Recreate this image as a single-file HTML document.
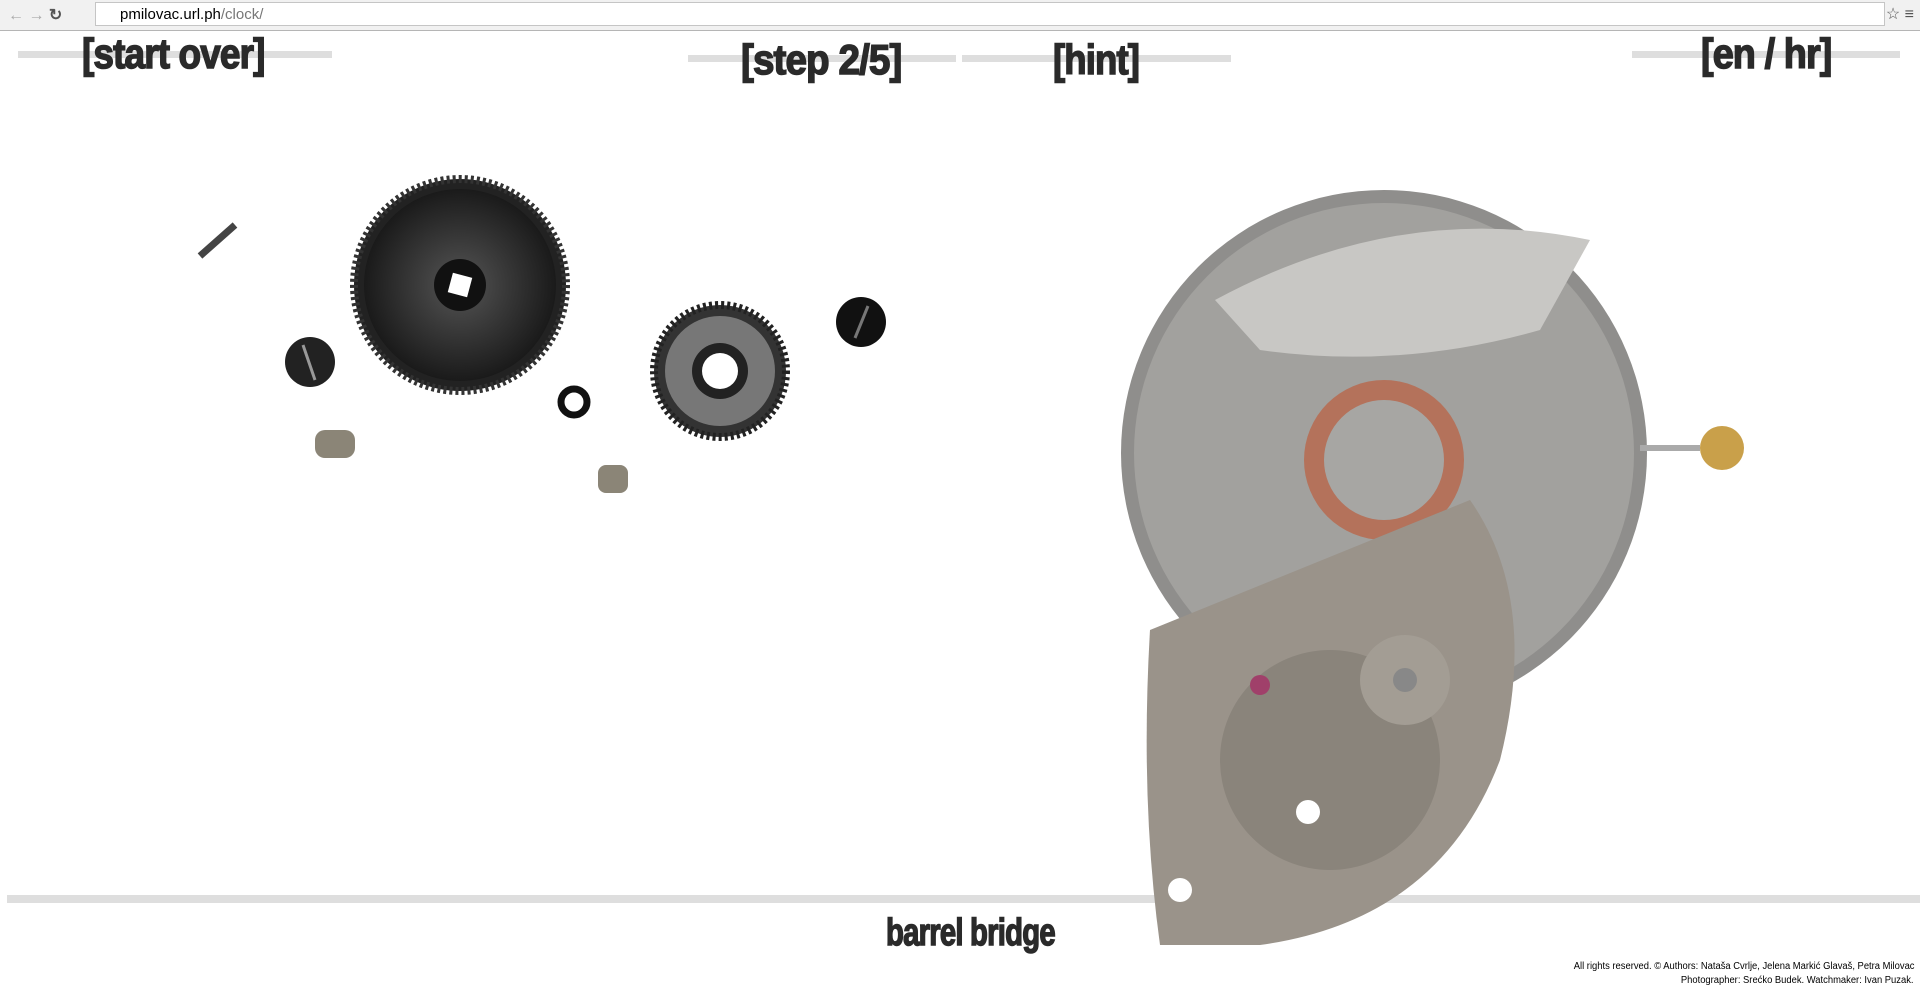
<!DOCTYPE html>
<html><head><meta charset="utf-8"><style>
html,body{margin:0;padding:0;width:1920px;height:1003px;overflow:hidden;background:#fff;font-family:"Liberation Sans",sans-serif}
.chrome{position:absolute;left:0;top:0;width:1920px;height:30px;background:#f1f1f1;border-bottom:1px solid #b5b5b5}
.url{position:absolute;left:95px;top:2px;width:1790px;height:24px;background:#fff;border:1px solid #c5c5c5;font-size:15px;line-height:24px;color:#000;padding-left:24px;box-sizing:border-box}
.url span{color:#777}
.bar{position:absolute;height:7px;background:#dedede}
.t{position:absolute;font-weight:bold;color:#2a2a2a;white-space:nowrap;transform-origin:0 0;letter-spacing:-1px;-webkit-text-stroke:1.5px #2a2a2a}
.foot{position:absolute;right:6px;font-size:10px;color:#000;text-align:right;transform:scaleX(.94);transform-origin:100% 0;white-space:nowrap}
svg{position:absolute;left:0;top:0}
</style></head><body>
<div class="chrome"><div style="position:absolute;left:8px;top:5px;color:#aaa;font-size:16px">&#8592; &#8594; <b style="color:#555">&#8635;</b></div>
<div class="url">pmilovac.url.ph<span>/clock/</span></div>
<div style="position:absolute;right:6px;top:4px;color:#555;font-size:16px">&#9734; &#8801;</div></div>
<div class="bar" style="left:18px;top:51px;width:314px"></div>
<div class="bar" style="left:688px;top:55px;width:268px"></div>
<div class="bar" style="left:962px;top:55px;width:269px"></div>
<div class="bar" style="left:1632px;top:51px;width:268px"></div>
<div class="bar" style="left:7px;top:895px;width:1913px;height:8px"></div>
<div class="t" style="left:82px;top:30px;font-size:42px;transform:scaleX(.88)">[start over]</div>
<div class="t" style="left:741px;top:36px;font-size:42px;transform:scaleX(.92)">[step 2/5]</div>
<div class="t" style="left:1053px;top:36px;font-size:42px;transform:scaleX(.87)">[hint]</div>
<div class="t" style="left:1701px;top:30px;font-size:42px;transform:scaleX(.9)">[en / hr]</div>
<svg width="1920" height="1003">
<defs><radialGradient id="g1"><stop offset="0" stop-color="#555"/><stop offset="1" stop-color="#1a1a1a"/></radialGradient></defs>
<circle cx="460" cy="285" r="106" fill="#222" stroke="#333" stroke-width="8" stroke-dasharray="3 3"/>
<circle cx="460" cy="285" r="96" fill="url(#g1)"/>
<circle cx="460" cy="285" r="26" fill="#111"/><rect x="450" y="275" width="20" height="20" fill="#fff" transform="rotate(15 460 285)"/>
<circle cx="720" cy="371" r="66" fill="#333" stroke="#222" stroke-width="8" stroke-dasharray="3 3"/>
<circle cx="720" cy="371" r="55" fill="#777"/><circle cx="720" cy="371" r="28" fill="#222"/><circle cx="720" cy="371" r="18" fill="#fff"/>
<circle cx="310" cy="362" r="25" fill="#222"/><line x1="303" y1="345" x2="315" y2="380" stroke="#999" stroke-width="3"/>
<circle cx="861" cy="322" r="25" fill="#111"/><line x1="868" y1="306" x2="855" y2="338" stroke="#777" stroke-width="3"/>
<circle cx="574" cy="402" r="13" fill="none" stroke="#111" stroke-width="7"/>
<line x1="200" y1="256" x2="235" y2="225" stroke="#444" stroke-width="7"/>
<rect x="315" y="430" width="40" height="28" rx="10" fill="#8b8577"/>
<rect x="598" y="465" width="30" height="28" rx="8" fill="#8b8577"/>
<circle cx="1384" cy="453" r="263" fill="#8f8e8c"/>
<circle cx="1384" cy="453" r="250" fill="#a2a19e"/>
<path d="M1215 300 Q1400 200 1590 240 L1540 330 Q1400 370 1260 350 Z" fill="#c8c7c4"/>
<circle cx="1384" cy="460" r="80" fill="#b9674a" opacity=".8"/><circle cx="1384" cy="460" r="60" fill="#a7a6a3"/>
<rect x="1640" y="445" width="60" height="6" fill="#aaa"/><circle cx="1722" cy="448" r="22" fill="#c9a04a"/>
<path d="M1150 630 L1470 500 Q1540 600 1500 760 Q1440 920 1260 945 L1160 945 Q1140 800 1150 630 Z" fill="#9a938a"/>
<circle cx="1330" cy="760" r="110" fill="#8a847b"/><circle cx="1405" cy="680" r="45" fill="#a39d94"/><circle cx="1405" cy="680" r="12" fill="#888"/>
<circle cx="1260" cy="685" r="10" fill="#a0406a"/><circle cx="1308" cy="812" r="12" fill="#fff"/><circle cx="1180" cy="890" r="12" fill="#fff"/>
</svg>
<div class="t" style="left:886px;top:912px;font-size:38px;transform:scaleX(.77)">barrel bridge</div>
<div class="foot" style="top:961px">All rights reserved. © Authors: Nataša Cvrlje, Jelena Markić Glavaš, Petra Milovac</div>
<div class="foot" style="top:975px">Photographer: Srećko Budek. Watchmaker: Ivan Puzak.</div>
</body></html>
